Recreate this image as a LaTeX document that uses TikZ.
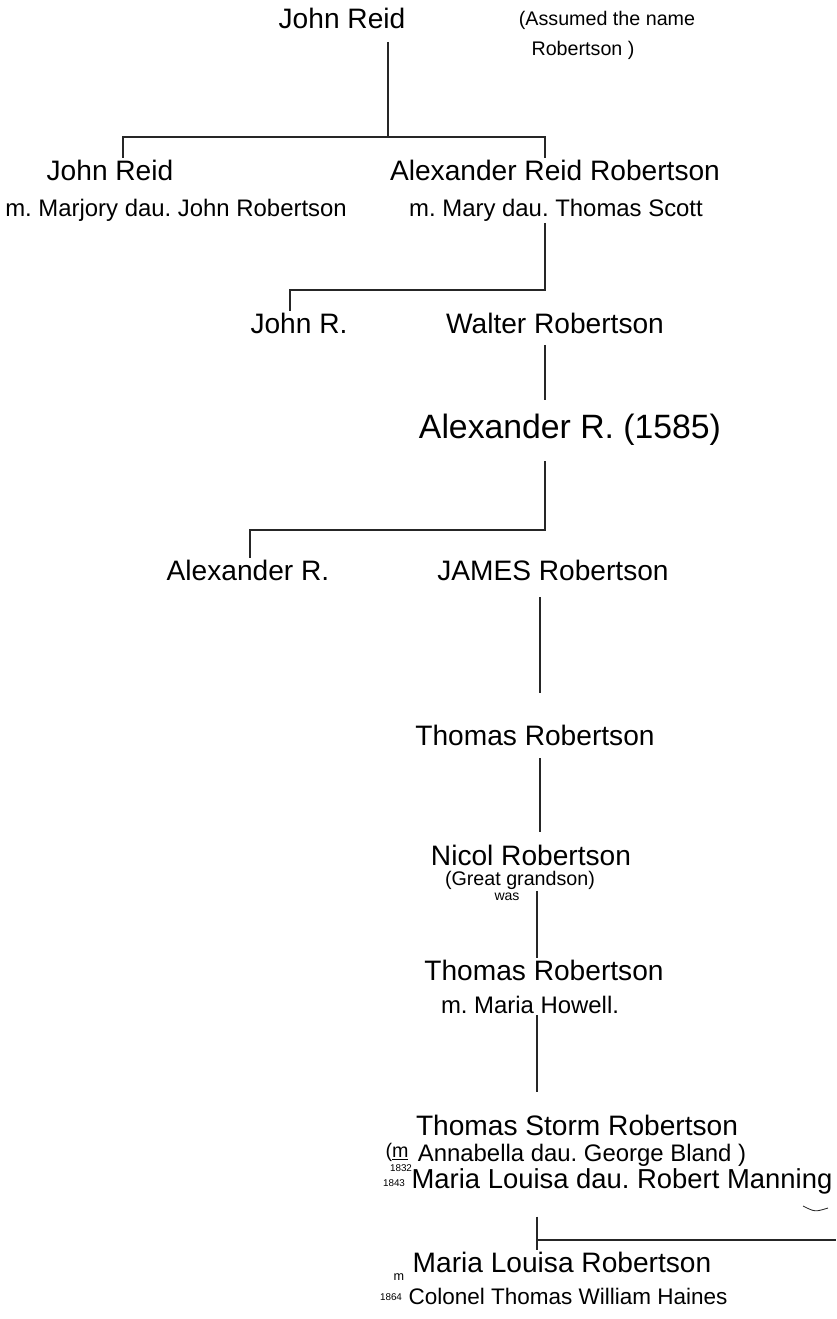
\documentclass[tikz,border=0pt]{standalone}
\usepackage{fontspec}
\setmainfont{Liberation Sans}
\usepackage{tikz}
\usetikzlibrary{positioning}
\frenchspacing

\begin{document}
\begin{tikzpicture}[x=0.025cm,y=-0.025cm,
                    person/.style={font=\fontsize{20}{22}\selectfont,inner sep=1pt},
                    spouse/.style={font=\fontsize{17}{20}\selectfont,inner sep=1pt},
                    note/.style={font=\fontsize{14}{16}\selectfont,inner sep=1pt},
                    year/.style={font=\fontsize{7}{8}\selectfont,inner sep=0pt},
                    line/.style={draw=black!85,line width=1.2pt}
                ]
    \useasboundingbox (0,0) rectangle (836,1319);

    % first generation
    \node[person] (jr) at (342,18) {John Reid};
    \node[note] (jrnote) at (607,20) {(Assumed the name};
    \node[note] (jrname) at (583,50) {Robertson )};

    % sons of John Reid
    \node[person] (jrson) at (110,170) {John Reid};
    \node[spouse] (jrsonm) at (176,210) {m. Marjory dau. John Robertson};
    \node[person] (arr) at (555,170) {Alexander Reid Robertson};
    \node[spouse] (arrm) at (556,210) {m. Mary dau. Thomas Scott};

    \coordinate (jrtop) at (388,42);
    \coordinate (bar1) at (388,137);
    \coordinate (bar1l) at (123,137);
    \coordinate (bar1r) at (545,137);
    \draw[line] (jrtop) -- (bar1);
    \draw[line] (bar1l |- jrson.north) -- (bar1l) -- (bar1r) -- (bar1r |- arr.north);

    % sons of Alexander Reid Robertson
    \node[person] (jrr) at (299,323) {John R.};
    \node[person] (wr) at (555,323) {Walter Robertson};
    \coordinate (bar2) at (545,290);
    \coordinate (bar2l) at (290,290);
    \draw[line] (arrm.south -| bar2) -- (bar2) -- (bar2l) -- (bar2l |- jrr.north);

    % Alexander R.
    \node[person,font=\fontsize{24}{26}\selectfont] (ax) at (570,430) {Alexander R. (1585)};
    \draw[line,shorten <=7pt,shorten >=9pt] (wr.south -| bar2) -- (ax.north -| bar2);

    % sons of Alexander R.
    \node[person] (axson) at (248,570) {Alexander R.};
    \node[person] (jm) at (553,570) {JAMES Robertson};
    \coordinate (bar3) at (545,530);
    \coordinate (bar3l) at (250,530);
    \draw[line,shorten <=10pt] (ax.south -| bar3) -- (bar3) -- (bar3l) -- (bar3l |- axson.north);

    % Thomas and Nicol
    \node[person] (tr) at (535,735) {Thomas Robertson};
    \node[person] (nr) at (531,855) {Nicol Robertson};
    \node[note] (nrnote) at (520,880) {(Great grandson)};
    \node[year,font=\fontsize{10}{11}\selectfont] (was) at (507,897) {was};
    \coordinate (col) at (540,0);
    \draw[line,shorten <=11pt,shorten >=21pt] (jm.south -| col) -- (tr.north -| col);
    \draw[line,shorten <=8pt,shorten >=8pt] (tr.south -| col) -- (nr.north -| col);

    % Thomas Robertson
    \node[person] (tr2) at (544,970) {Thomas Robertson};
    \node[spouse] (tr2m) at (530,1005) {m. Maria Howell.};
    \coordinate (col2) at (537,0);
    \draw[line] (nrnote.south -| col2) -- (tr2.north -| col2);

    % Thomas Storm Robertson
    \node[person] (tsr) at (577,1125) {Thomas Storm Robertson};
    \node[spouse] (tsrm1) at (582,1155) {Annabella dau. George Bland )};
    \node[note] (tsrm0) at (397,1152) {(\underline{m}};
    \node[year] (tsry1) at (401,1168) {1832};
    \node[year] (tsry2) at (394,1183) {1843};
    \node[spouse,font=\fontsize{19.5}{21}\selectfont] (tsrm2) at (622,1181) {Maria Louisa dau. Robert Manning};
    \draw[line,shorten >=15pt] (tr2m.south -| col2) -- (tsr.north -| col2);
    \draw[line,line width=0.6pt] (803,1206) .. controls (815,1212) .. (828,1208);

    % Maria Louisa Robertson
    \node[person] (mlr) at (562,1262) {Maria Louisa Robertson};
    \node[spouse,font=\fontsize{16}{18}\selectfont] (mlrm) at (568,1296) {Colonel Thomas William Haines};
    \node[year,font=\fontsize{9}{10}\selectfont] (mlrm0) at (399,1277) {m};
    \node[year] (mlry) at (391,1297) {1864};
    \coordinate (bar4) at (537,1240);
    \coordinate (bar4r) at (836,1240);
    \draw[line,shorten <=15pt] (tsrm2.south -| bar4) -- (mlr.north -| bar4);
    \draw[line] (bar4) -- (bar4r);
\end{tikzpicture}
\end{document}
